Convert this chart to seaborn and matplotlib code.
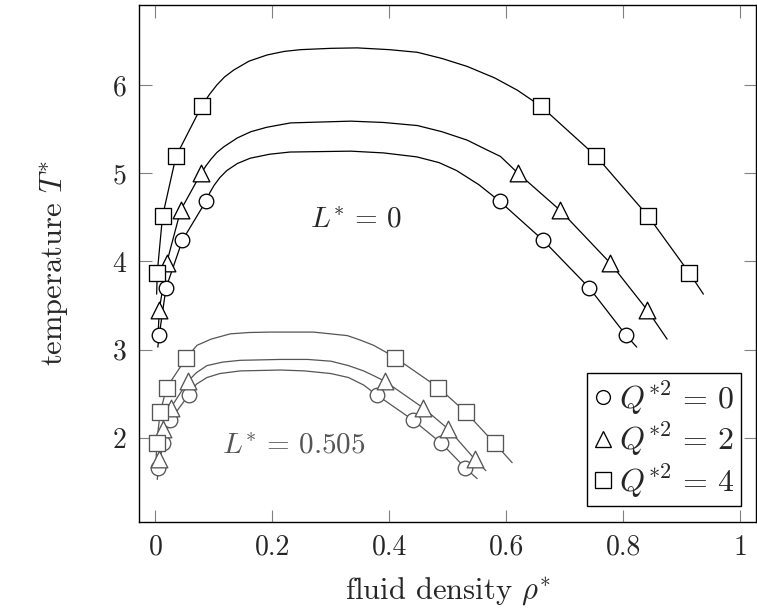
import pandas as pd
import seaborn as sns
import matplotlib.pyplot as plt
from matplotlib.lines import Line2D

sns.set_style("ticks")
plt.rcParams['font.family'] = 'serif'
plt.rcParams['font.serif'] = ['cmr10']
plt.rcParams['mathtext.fontset'] = 'cm'
plt.rcParams['axes.formatter.use_mathtext'] = True

# ---- simulation points (markers) ----
# L* = 0
l0_q0_rho = [0.0065, 0.018, 0.046, 0.086, 0.589, 0.663, 0.742, 0.804]
l0_q0_T = [3.17, 3.70, 4.24, 4.68, 4.68, 4.24, 3.70, 3.17]
l0_q2_rho = [0.0065, 0.019, 0.043, 0.078, 0.620, 0.692, 0.778, 0.841]
l0_q2_T = [3.45, 3.98, 4.58, 5.00, 5.00, 4.58, 3.98, 3.45]
l0_q4_rho = [0.003, 0.012, 0.035, 0.079, 0.659, 0.754, 0.843, 0.913]
l0_q4_T = [3.87, 4.51, 5.19, 5.76, 5.76, 5.19, 4.51, 3.87]
# L* = 0.505
l5_q0_rho = [0.005, 0.013, 0.025, 0.057, 0.378, 0.441, 0.489, 0.530]
l5_q0_T = [1.66, 1.94, 2.20, 2.49, 2.49, 2.20, 1.94, 1.66]
l5_q2_rho = [0.006, 0.012, 0.026, 0.055, 0.393, 0.458, 0.501, 0.546]
l5_q2_T = [1.76, 2.10, 2.34, 2.64, 2.64, 2.34, 2.10, 1.76]
l5_q4_rho = [0.002, 0.008, 0.019, 0.053, 0.410, 0.484, 0.531, 0.580]
l5_q4_T = [1.94, 2.29, 2.57, 2.91, 2.91, 2.57, 2.29, 1.94]

# ---- fitted coexistence curves ----
c0_q0_rho = [0.004, 0.0065, 0.018, 0.046, 0.086, 0.093, 0.10, 0.11, 0.122, 0.14, 0.162, 0.195,
             0.230, 0.334, 0.39, 0.447, 0.485, 0.515, 0.553, 0.589, 0.663, 0.742, 0.804, 0.823]
c0_q0_T = [3.03, 3.17, 3.70, 4.24, 4.68, 4.78, 4.86, 4.95, 5.03, 5.11, 5.17, 5.215,
           5.24, 5.25, 5.23, 5.185, 5.12, 5.03, 4.87, 4.68, 4.24, 3.70, 3.17, 3.03]
c0_q2_rho = [0.004, 0.0065, 0.019, 0.043, 0.078, 0.086, 0.095, 0.105, 0.117, 0.14, 0.163, 0.19,
             0.231, 0.334, 0.39, 0.448, 0.49, 0.533, 0.565, 0.59, 0.620, 0.692, 0.778, 0.841, 0.875]
c0_q2_T = [3.12, 3.45, 3.98, 4.58, 5.00, 5.08, 5.16, 5.235, 5.30, 5.40, 5.47, 5.52,
           5.57, 5.59, 5.575, 5.54, 5.47, 5.375, 5.27, 5.19, 5.00, 4.58, 3.98, 3.45, 3.12]
c0_q4_rho = [0.002, 0.003, 0.012, 0.035, 0.079, 0.092, 0.105, 0.118, 0.134, 0.16, 0.191, 0.22,
             0.248, 0.30, 0.345, 0.40, 0.448, 0.49, 0.533, 0.58, 0.619, 0.659, 0.754, 0.843,
             0.913, 0.937]
c0_q4_T = [3.63, 3.87, 4.51, 5.19, 5.76, 5.89, 6.00, 6.09, 6.17, 6.27, 6.34, 6.38,
           6.40, 6.415, 6.42, 6.40, 6.37, 6.30, 6.21, 6.08, 5.94, 5.76, 5.19, 4.51,
           3.87, 3.63]
c5_q0_rho = [0.003, 0.005, 0.013, 0.025, 0.057, 0.07, 0.088, 0.11, 0.145, 0.214, 0.255,
             0.30, 0.33, 0.356, 0.378, 0.441, 0.489, 0.530, 0.55]
c5_q0_T = [1.53, 1.66, 1.94, 2.20, 2.49, 2.61, 2.685, 2.73, 2.76, 2.77, 2.76,
           2.73, 2.685, 2.60, 2.49, 2.20, 1.94, 1.66, 1.54]
c5_q2_rho = [0.004, 0.006, 0.012, 0.026, 0.055, 0.07, 0.088, 0.115, 0.145, 0.214, 0.26,
             0.30, 0.33, 0.356, 0.375, 0.393, 0.458, 0.501, 0.546, 0.565]
c5_q2_T = [1.62, 1.76, 2.10, 2.34, 2.64, 2.74, 2.82, 2.86, 2.88, 2.89, 2.89,
           2.87, 2.82, 2.76, 2.70, 2.64, 2.34, 2.10, 1.76, 1.63]
c5_q4_rho = [0.001, 0.002, 0.008, 0.019, 0.053, 0.071, 0.095, 0.128, 0.16, 0.197, 0.27,
             0.328, 0.35, 0.373, 0.392, 0.410, 0.484, 0.531, 0.580, 0.61]
c5_q4_T = [1.72, 1.94, 2.29, 2.57, 2.91, 3.05, 3.12, 3.18, 3.195, 3.20, 3.20,
           3.16, 3.11, 3.05, 2.98, 2.91, 2.57, 2.29, 1.94, 1.72]

q_labels = [r'$Q^{*2}\,=\,0$', r'$Q^{*2}\,=\,2$', r'$Q^{*2}\,=\,4$']
x_ticks = [0, 0.2, 0.4, 0.6, 0.8, 1]
x_ticklabels = ['0', '0.2', '0.4', '0.6', '0.8', '1']
y_ticks = [2, 3, 4, 5, 6]

markers = ['o', '^', 's']
msizes = [10.5, 12, 11.5]
gray = '#555555'

series = [
    ('0', 0, l0_q0_rho, l0_q0_T, c0_q0_rho, c0_q0_T),
    ('0', 1, l0_q2_rho, l0_q2_T, c0_q2_rho, c0_q2_T),
    ('0', 2, l0_q4_rho, l0_q4_T, c0_q4_rho, c0_q4_T),
    ('0.505', 0, l5_q0_rho, l5_q0_T, c5_q0_rho, c5_q0_T),
    ('0.505', 1, l5_q2_rho, l5_q2_T, c5_q2_rho, c5_q2_T),
    ('0.505', 2, l5_q4_rho, l5_q4_T, c5_q4_rho, c5_q4_T),
]

fig = plt.figure(figsize=(7.57, 6.16), dpi=100)
ax = fig.add_axes([139 / 757, 1 - 522 / 616, 617 / 757, 517 / 616])

for L, qi, mrho, mT, crho, cT in series:
    col = 'black' if L == '0' else gray
    curve = pd.DataFrame({'rho': crho, 'T': cT})
    pts = pd.DataFrame({'rho': mrho, 'T': mT})
    sns.lineplot(data=curve, x='rho', y='T', sort=False, estimator=None,
                 color=col, lw=0.9, ax=ax, zorder=2)
    sns.scatterplot(data=pts, x='rho', y='T', marker=markers[qi],
                    s=msizes[qi] ** 2, facecolor='white', edgecolor=col,
                    linewidth=0.95, ax=ax, zorder=3)

ax.text(0.343, 4.47, r'$L^{*}\,=\,0$', fontsize=21, ha='center', va='center')
ax.text(0.237, 1.91, r'$L^{*}\,=\,0.505$', fontsize=21, ha='center', va='center',
        color=gray)

ax.set_xlim(-0.0282, 1.027)
ax.set_ylim(1.048, 6.906)
ax.set_xticks(x_ticks)
ax.set_xticklabels(x_ticklabels)
ax.set_yticks(y_ticks)
ax.set_yticklabels([str(t) for t in y_ticks])
ax.tick_params(direction='in', top=True, right=True, length=9, width=0.8,
               color='0.5', labelsize=20, pad=9)
for sp in ax.spines.values():
    sp.set_linewidth(1.0)
    sp.set_color('black')

ax.set_xlabel(r'fluid density $\rho^{*}$', fontsize=22, labelpad=11)
ax.set_ylabel(r'temperature $T^{*}$', fontsize=22, labelpad=30)

handles = [Line2D([], [], marker=m, ls='none', mfc='white', mec='black',
                  ms=ms * 0.95, mew=0.95) for m, ms in zip(markers, msizes)]
leg = ax.legend(handles, q_labels, loc='lower right', bbox_to_anchor=(0.976, 0.031),
                borderaxespad=0, fontsize=23, frameon=True, fancybox=False,
                framealpha=1, edgecolor='black', handlelength=0.6,
                handletextpad=0.2, borderpad=0.2, labelspacing=0.12)
leg.get_frame().set_linewidth(1.0)

fig.savefig('out.png', dpi=100)
